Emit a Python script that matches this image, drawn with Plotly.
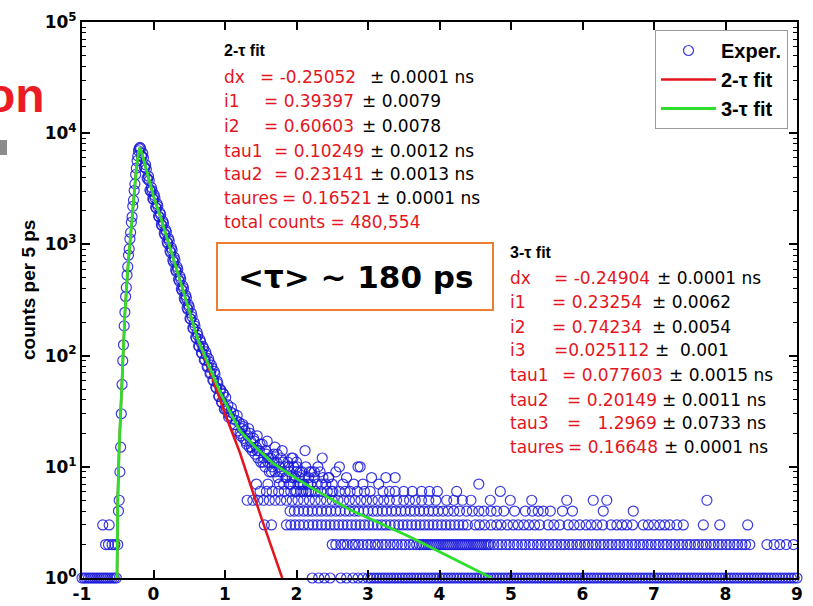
import plotly.graph_objects as go

# ---------------- data ----------------
# rising edge of the measured spectrum (time in ns, counts per 5 ps)
rise_x = [-0.50, -0.49, -0.48, -0.47, -0.46, -0.45, -0.44, -0.43, -0.42, -0.41, -0.40,
          -0.39, -0.38, -0.37, -0.36, -0.35, -0.34, -0.33, -0.32, -0.31, -0.30, -0.29,
          -0.28, -0.27, -0.26, -0.25, -0.24, -0.23, -0.22, -0.21, -0.20, -0.19]
rise_y = [2, 4, 5, 9, 15, 30, 55, 90, 125, 185, 245, 340, 410, 530, 630, 800, 910,
          1120, 1280, 1580, 1770, 2200, 2500, 3050, 3500, 4250, 4850, 5650, 6250, 6950,
          7250, 7450]

# falling edge (even and odd 10 ps bins)
fall_x = [-0.18, -0.16, -0.14, -0.12, -0.10, -0.08, -0.06, -0.04, -0.02, 0.00, 0.02,
          0.04, 0.06, 0.08, 0.10, 0.12, 0.14, 0.16, 0.18, 0.20, 0.22, 0.24, 0.26, 0.28,
          0.30, 0.32, 0.34, 0.36, 0.38, 0.40, 0.42, 0.44, 0.46, 0.48, 0.50, 0.52, 0.54,
          0.56, 0.58, 0.60, 0.62, 0.64, 0.66, 0.68, 0.70, 0.72, 0.74, 0.76, 0.78, 0.80,
          0.82, 0.84, 0.86, 0.88, 0.90, 0.92, 0.94, 0.96, 0.98, 1.00]
fall_y = [7300, 6200, 6000, 4900, 4750, 3850, 3750, 3000, 3050, 2550, 2620, 2120, 2200,
          1760, 1850, 1470, 1540, 1220, 1290, 1020, 1075, 845, 885, 695, 725, 570, 596,
          468, 490, 385, 402, 316, 330, 260, 272, 213, 223, 175, 184, 143, 152, 121, 132,
          105, 116, 92, 101, 80, 88, 70, 77, 60, 68, 51, 56, 43, 49, 38, 45, 33]
fall2_x = [-0.17, -0.15, -0.13, -0.11, -0.09, -0.07, -0.05, -0.03, -0.01, 0.01, 0.03,
           0.05, 0.07, 0.09, 0.11, 0.13, 0.15, 0.17, 0.19, 0.21, 0.23, 0.25, 0.27, 0.29,
           0.31, 0.33, 0.35, 0.37, 0.39, 0.41, 0.43, 0.45, 0.47, 0.49, 0.51, 0.53, 0.55,
           0.57, 0.59, 0.61, 0.63, 0.65, 0.67, 0.69, 0.71, 0.73, 0.75, 0.77, 0.79, 0.81,
           0.83, 0.85, 0.87, 0.89, 0.91, 0.93, 0.95, 0.97, 0.99]
fall2_y = [6250, 6600, 4990, 5200, 3950, 4100, 3070, 3250, 2570, 2780, 2160, 2320, 1800,
           1930, 1510, 1620, 1260, 1350, 1055, 1130, 876, 932, 720, 766, 591, 628, 485,
           516, 398, 424, 328, 349, 269, 286, 216, 240, 177, 197, 146, 162, 122, 139, 106,
           121, 91, 108, 79, 94, 69, 82, 60, 72, 52, 59, 43, 50, 38, 46, 33]

# scattered tail between 1 and 2.5 ns
mid_x = [1.02, 1.04, 1.06, 1.08, 1.10, 1.12, 1.14, 1.16, 1.18, 1.20, 1.22, 1.24, 1.26,
         1.28, 1.30, 1.32, 1.34, 1.36, 1.38, 1.40, 1.42, 1.44, 1.46, 1.48, 1.50, 1.52,
         1.54, 1.56, 1.58, 1.60, 1.62, 1.64, 1.66, 1.68, 1.70, 1.72, 1.74, 1.76, 1.78,
         1.80, 1.82, 1.84, 1.86, 1.88, 1.90, 1.92, 1.94, 1.96, 1.98, 2.00, 2.02, 2.04,
         2.06, 2.08, 2.10, 2.12, 2.14, 2.16, 2.18, 2.20]
mid_y = [33, 36, 29, 31, 27, 30, 24, 26, 21, 25, 19, 22, 18, 21, 16, 19, 15, 17, 14, 18,
         13, 15, 12, 14, 11, 16, 12, 10, 13, 11, 9, 12, 10, 13, 9, 11, 8, 10, 12, 9, 7,
         10, 8, 11, 9, 7, 8, 10, 6, 9, 7, 8, 6, 9, 7, 8, 6, 7, 9, 6]
mid2_x = [1.01, 1.05, 1.09, 1.13, 1.17, 1.21, 1.25, 1.29, 1.33, 1.37, 1.41, 1.45, 1.49,
          1.53, 1.57, 1.61, 1.65, 1.69, 1.73, 1.77, 1.81, 1.85, 1.89, 1.93, 1.97, 2.01,
          2.05, 2.09, 2.13, 2.17, 2.21, 2.25, 2.29, 2.33, 2.37, 2.41, 2.45, 2.49]
mid2_y = [42, 28, 34, 24, 29, 20, 23, 17, 22, 15, 17, 14, 16, 11, 14, 12, 9, 11, 13, 9,
          11, 8, 10, 12, 8, 10, 9, 7, 10, 8, 9, 8, 7, 9, 8, 7, 8, 6]

# isolated higher points in the tail
hi_x = [1.35, 1.59, 1.80, 1.95, 2.00, 2.12, 2.25, 2.30, 2.36, 2.45, 2.60, 2.70, 2.86,
        2.89, 3.05, 3.15, 3.38, 1.25, 1.45, 1.70, 2.55, 3.25]
hi_y = [20, 17, 14, 12, 11, 14, 9, 10, 12, 8, 10, 8, 10, 10, 8, 7, 8, 24, 19, 15, 9, 8]

# discrete count levels in the tail (x positions of points with that count)
row1_x = [-1.00, -0.97, -0.94, -0.91, -0.88, -0.85, -0.82, -0.79, -0.76, -0.73, -0.70,
          -0.67, -0.64, -0.61, -0.58, -0.55, -0.52,
          2.22, 2.31, 2.39, 2.47, 2.62, 2.70, 2.79, 2.86, 2.93,
          3.00, 3.04, 3.08, 3.12, 3.16, 3.20, 3.24, 3.28, 3.32, 3.36, 3.40, 3.44, 3.48,
          3.52, 3.56, 3.60, 3.64, 3.68, 3.72, 3.76, 3.80, 3.84, 3.88, 3.92, 3.96, 4.00,
          4.04, 4.08, 4.12, 4.16, 4.20, 4.24, 4.28, 4.32, 4.36, 4.40, 4.44, 4.48, 4.52,
          4.56, 4.60, 4.64, 4.68, 4.72, 4.76, 4.80, 4.84, 4.88, 4.92, 4.96, 5.00, 5.04,
          5.08, 5.12, 5.16, 5.20, 5.24, 5.28, 5.32, 5.36, 5.40, 5.44, 5.48, 5.52, 5.56,
          5.60, 5.64, 5.68, 5.72, 5.76, 5.80, 5.84, 5.88, 5.92, 5.96, 6.00, 6.04, 6.08,
          6.12, 6.16, 6.20, 6.24, 6.28, 6.32, 6.36, 6.40, 6.44, 6.48, 6.52, 6.56, 6.60,
          6.64, 6.68, 6.72, 6.76, 6.80, 6.84, 6.88, 6.92, 6.96, 7.00, 7.04, 7.08, 7.12,
          7.16, 7.20, 7.24, 7.28, 7.32, 7.36, 7.40, 7.44, 7.48, 7.52, 7.56, 7.60, 7.64,
          7.68, 7.72, 7.76, 7.80, 7.84, 7.88, 7.92, 7.96, 8.00, 8.04, 8.08, 8.12, 8.16,
          8.20, 8.24, 8.28, 8.32, 8.36, 8.40, 8.44, 8.48, 8.52, 8.56, 8.60, 8.64, 8.68,
          8.72, 8.76, 8.80, 8.84, 8.88, 8.92, 8.96, 9.00]
row2_x = [-0.67, -0.63, -0.58, -0.54,
          2.50, 2.55, 2.62, 2.66, 2.71, 2.78, 2.82, 2.87, 2.93, 2.99, 3.04, 3.10, 3.14,
          3.20, 3.25, 3.31, 3.36, 3.41, 3.47, 3.52, 3.58, 3.63, 3.68, 3.72, 3.75, 3.78,
          3.81, 3.84, 3.87, 3.90, 3.93, 3.96, 3.99, 4.02, 4.05, 4.08, 4.11, 4.14, 4.17,
          4.20, 4.23, 4.26, 4.29, 4.32, 4.35, 4.38, 4.41, 4.44, 4.47, 4.50, 4.53, 4.56,
          4.59, 4.62, 4.65, 4.68, 4.71, 4.76, 4.82, 4.87, 4.93, 4.98, 5.04, 5.09, 5.15,
          5.20, 5.26, 5.31, 5.37, 5.42, 5.48, 5.53, 5.59, 5.64, 5.70, 5.75, 5.81, 5.86,
          5.92, 5.97, 6.03, 6.08, 6.14, 6.19, 6.25, 6.30, 6.36, 6.41, 6.47, 6.52, 6.58,
          6.63, 6.69, 6.74, 6.80, 6.85, 6.91, 6.96, 7.02, 7.07, 7.13, 7.18, 7.24, 7.29,
          7.35, 7.40, 7.46, 7.51, 7.57, 7.62, 7.68, 7.73, 7.79, 7.84, 7.90, 7.95, 8.01,
          8.06, 8.12, 8.17, 8.23, 8.28, 8.34, 8.58, 8.68, 8.76, 8.85, 8.95]
row3_x = [-0.71, -0.62,
          1.55, 1.65, 1.86, 1.92, 1.98, 2.04, 2.10, 2.17, 2.23, 2.29, 2.35, 2.41, 2.47,
          2.53, 2.59, 2.65, 2.71, 2.77, 2.83, 2.89, 2.95, 3.01, 3.07, 3.13, 3.19, 3.25,
          3.31, 3.37, 3.43, 3.49, 3.55, 3.61, 3.67, 3.73, 3.79, 3.85, 3.91, 3.97, 4.03,
          4.09, 4.15, 4.21, 4.27, 4.33, 4.39, 4.50, 4.56, 4.63, 4.72, 4.80, 4.86, 4.95,
          5.03, 5.10, 5.18, 5.25, 5.33, 5.40, 5.52, 5.60, 5.68, 5.80, 5.88, 5.96, 6.05,
          6.12, 6.20, 6.28, 6.40, 6.48, 6.55, 6.62, 6.70, 6.85, 6.92, 7.00, 7.08, 7.15,
          7.22, 7.32, 7.41, 7.69, 7.92, 8.31]
row4_x = [1.91, 1.97, 2.03, 2.10, 2.16, 2.22, 2.29, 2.35, 2.42, 2.48, 2.55, 2.61, 2.68,
          2.74, 2.81, 2.87, 2.94, 3.00, 3.07, 3.13, 3.20, 3.26, 3.33, 3.39, 3.46, 3.52,
          3.59, 3.65, 3.72, 3.78, 3.85, 3.91, 3.98, 4.05, 4.12, 4.20, 4.28, 4.38, 4.46,
          4.55, 4.62, 4.72, 4.80, 4.90, 5.05, 5.20, 5.30, 5.38, 5.45, 5.55, 5.72, 5.86,
          6.29, 6.71]
row5_x = [1.31, 1.39, 1.46, 1.54, 1.62, 1.70, 1.78, 1.86, 1.94, 2.02, 2.10, 2.18, 2.26,
          2.34, 2.42, 2.50, 2.58, 2.66, 2.74, 2.82, 2.90, 2.98, 3.06, 3.14, 3.22, 3.30,
          3.40, 3.50, 3.58, 3.66, 3.75, 3.85, 3.95, 4.10, 4.20, 4.32, 4.44, 4.71, 4.99,
          5.29, 5.78, 6.15, 6.34, 7.74]
row6_x = [1.49, 1.58, 1.66, 1.75, 1.83, 1.92, 2.00, 2.09, 2.17, 2.26, 2.34, 2.43, 2.51,
          2.60, 2.68, 2.75, 2.85, 2.95, 3.03, 3.21, 3.30, 3.38, 3.50, 3.62, 3.75, 3.86,
          3.97, 4.24, 4.85]
row7_x = [1.44, 1.60, 1.76, 1.90, 2.05, 2.20, 2.35, 2.50, 2.65, 2.80, 2.93, 4.55]

# fitted curves
fit2_x = [-0.51, -0.50, -0.48, -0.46, -0.44, -0.40, -0.36, -0.33, -0.30, -0.27, -0.24,
          -0.21, -0.19, -0.16, -0.10, 0.00, 0.10, 0.22, 0.40, 0.62, 0.80, 1.00, 1.21,
          1.50, 1.80]
fit2_y = [1, 5, 15, 32, 60, 240, 600, 1000, 1800, 3000, 4800, 6700, 7400, 6500, 4700,
          2700, 1750, 1000, 413, 140, 70, 30, 13.3, 3.6, 1.0]
fit3_x = [-0.51, -0.50, -0.48, -0.46, -0.44, -0.40, -0.36, -0.33, -0.30, -0.27, -0.24,
          -0.21, -0.19, -0.16, -0.10, 0.00, 0.10, 0.22, 0.40, 0.62, 0.85, 0.93, 1.05,
          1.21, 1.45, 1.67, 1.90, 2.19, 2.75, 3.59, 4.73]
fit3_y = [1, 5, 15, 32, 60, 240, 600, 1000, 1800, 3000, 4800, 6700, 7400, 6500, 4700,
          2700, 1750, 1000, 413, 140, 64, 47, 33, 21, 14.5, 10.8, 8.6, 6.6, 4.1, 2.34,
          1.0]

# axis ticks
xtick_vals = [-1, 0, 1, 2, 3, 4, 5, 6, 7, 8, 9]
xtick_text = ["-1", "0", "1", "2", "3", "4", "5", "6", "7", "8", "9"]
ytick_vals = [1, 10, 100, 1000, 10000, 100000]
ytick_text = ["10<sup>0</sup>", "10<sup>1</sup>", "10<sup>2</sup>", "10<sup>3</sup>",
              "10<sup>4</sup>", "10<sup>5</sup>"]

# fit result texts
fit2_title = "2-τ fit"
fit2_labels = ["dx", "i1", "i2", "tau1", "tau2", "taures"]
fit2_values = ["= -0.25052", "= 0.39397", "= 0.60603", "= 0.10249", "= 0.23141",
               "= 0.16521"]
fit2_errors = ["± 0.0001 ns", "± 0.0079", "± 0.0078", "± 0.0012 ns", "± 0.0013 ns",
               "± 0.0001 ns"]
fit2_total = "total counts = 480,554"
fit3_title = "3-τ fit"
fit3_labels = ["dx", "i1", "i2", "i3", "tau1", "tau2", "tau3", "taures"]
fit3_values = ["= -0.24904", "= 0.23254", "= 0.74234", "=0.025112", "= 0.077603",
               "= 0.20149", "=   1.2969", "= 0.16648"]
fit3_errors = ["± 0.0001 ns", "± 0.0062", "± 0.0054", "±  0.001", "± 0.0015 ns",
               "± 0.0011 ns", "± 0.0733 ns", "± 0.0001 ns"]
box_text = "<τ> ~ 180 ps"
y_title = "counts per 5 ps"

# ---------------- assemble ----------------
exp_x = rise_x + fall_x + fall2_x + mid_x + mid2_x + hi_x
exp_y = rise_y + fall_y + fall2_y + mid_y + mid2_y + hi_y
for level, xs in [(1, row1_x), (2, row2_x), (3, row3_x), (4, row4_x), (5, row5_x),
                  (6, row6_x), (7, row7_x)]:
    exp_x += xs
    exp_y += [level] * len(xs)

# pixel helpers (plot area: x 82..797, y 22..578)
L, R, T, B = 82, 797, 22, 578


def px(p):
    return (p - L) / (R - L)


def py(p):
    return (B - p) / (B - T)


RED = "rgb(228,22,30)"
FONT = "DejaVu Sans"
ARIAL = "Liberation Sans, Arial"

fig = go.Figure()
fig.add_trace(go.Scatter(
    x=exp_x, y=exp_y, mode="markers", name="Exper.", cliponaxis=False,
    marker=dict(symbol="circle-open", size=10, color="rgba(25,25,220,0.85)",
                line=dict(width=1.2))))
fig.add_trace(go.Scatter(x=fit2_x, y=fit2_y, mode="lines", name="2-τ fit",
                         line=dict(color="rgb(228,20,28)", width=2.5)))
fig.add_trace(go.Scatter(x=fit3_x, y=fit3_y, mode="lines", name="3-τ fit",
                         line=dict(color="rgb(45,222,45)", width=2.8)))

ann = []


def text(t, x, y, size, color="black", weight="normal", family=FONT, xanchor="left",
         angle=0):
    ann.append(dict(text=t, x=px(x), y=py(y), xref="paper", yref="paper",
                    xanchor=xanchor, yanchor="middle", showarrow=False,
                    textangle=angle,
                    font=dict(family=family, size=size, color=color, weight=weight)))


PS = 17
# 2-tau block
text(fit2_title, 222, 50, 16, weight="bold", family=ARIAL)
f2_y = [77, 101, 126, 151, 174, 198]
f2_eq = [258, 262, 262, 272, 272, 280]
f2_pm = [368, 360, 360, 368, 368, 374]
for i in range(len(fit2_labels)):
    text(fit2_labels[i], 222, f2_y[i], PS, RED)
    text(fit2_values[i], f2_eq[i], f2_y[i], PS, RED)
    text(fit2_errors[i], f2_pm[i], f2_y[i], PS, "black")
text(fit2_total, 222, 222, PS, RED)

# 3-tau block
text(fit3_title, 508, 253, 16, weight="bold", family=ARIAL)
f3_y = [278, 302, 327, 350, 375, 400, 423, 447]
f3_eq = [552, 550, 550, 552, 560, 565, 565, 566]
f3_pm = [655, 650, 650, 653, 667, 660, 660, 662]
for i in range(len(fit3_labels)):
    text(fit3_labels[i], 508, f3_y[i], PS, RED)
    text(fit3_values[i], f3_eq[i], f3_y[i], PS, RED)
    text(fit3_errors[i], f3_pm[i], f3_y[i], PS, "black")

# boxed mean lifetime
text(box_text, 355, 277, 31, weight="bold", xanchor="center")
# axis title
text(y_title, 28, 290, 19, weight="bold", family=ARIAL, xanchor="center", angle=-90)
# fragment of the slide title on the left
text("on", 47, 96, 48, color="rgb(236,28,36)", weight="bold", family=ARIAL,
     xanchor="right")

shapes = [
    dict(type="rect", xref="paper", yref="paper", x0=px(217), x1=px(493), y0=py(310),
         y1=py(243), line=dict(color="rgb(237,125,49)", width=2), fillcolor="white",
         layer="above"),
    dict(type="rect", xref="paper", yref="paper", x0=px(-5), x1=px(7), y0=py(155),
         y1=py(140), line=dict(width=0), fillcolor="rgb(140,140,140)", layer="above"),
]

fig.update_layout(
    width=813, height=606,
    margin=dict(l=L, r=813 - R, t=T, b=606 - B),
    paper_bgcolor="white", plot_bgcolor="white",
    annotations=ann, shapes=shapes,
    legend=dict(x=px(788), y=py(30), xanchor="right", yanchor="top", bgcolor="white",
                bordercolor="#9a9a9a", borderwidth=1, itemwidth=55,
                font=dict(family=ARIAL, size=20, color="black", weight="bold")),
)
axis_common = dict(ticks="inside", ticklen=8, tickwidth=1.5, tickcolor="black",
                   showline=True, linecolor="black", linewidth=2, mirror="allticks",
                   showgrid=False, zeroline=False, automargin=False)
fig.update_xaxes(range=[-1, 9], tickmode="array", tickvals=xtick_vals,
                 ticktext=xtick_text,
                 tickfont=dict(family=FONT, size=17, color="black", weight="bold"),
                 **axis_common)
minor_vals = [m * 10 ** k for k in range(5) for m in range(2, 10)]
fig.update_yaxes(type="log", range=[0, 5], tickmode="array", tickvals=ytick_vals,
                 ticktext=ytick_text,
                 tickfont=dict(family=FONT, size=17, color="black", weight="bold"),
                 minor=dict(tickmode="array", tickvals=minor_vals, ticks="inside",
                            ticklen=4, tickcolor="black", tickwidth=1, showgrid=False),
                 **axis_common)

fig.write_html("out.html")
